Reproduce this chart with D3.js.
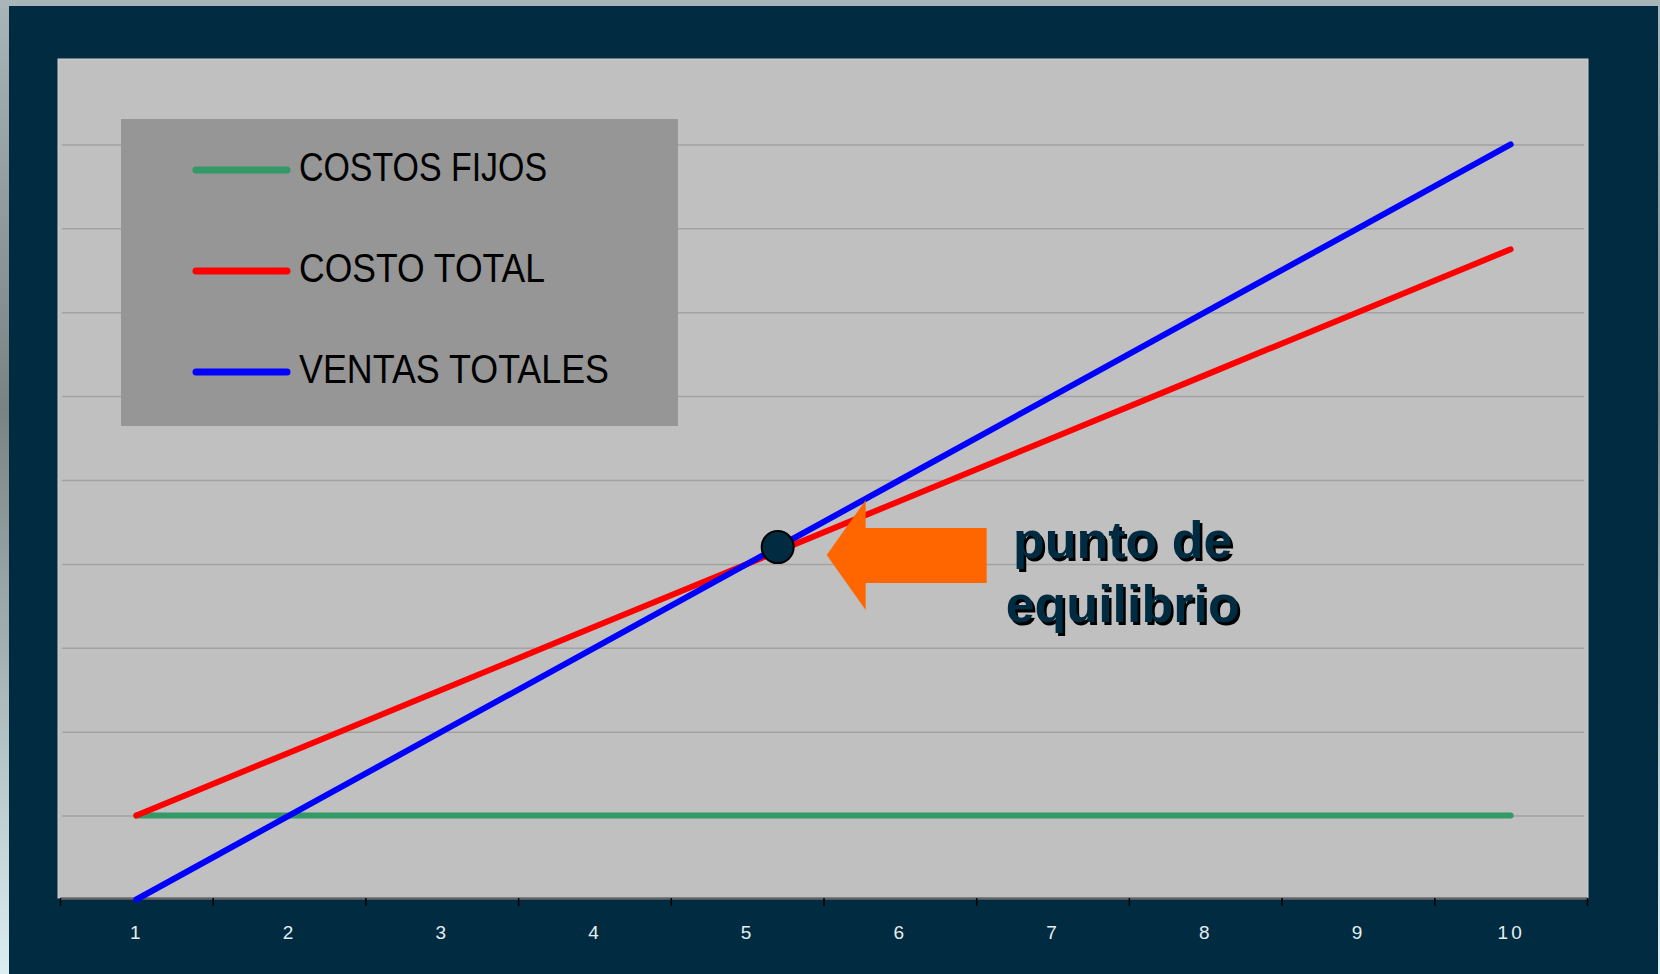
<!DOCTYPE html>
<html>
<head>
<meta charset="utf-8">
<script src="https://cdn.jsdelivr.net/npm/d3@7"></script>
<style>
  html, body { margin: 0; padding: 0; }
  body {
    width: 1660px; height: 974px; overflow: hidden;
    background: linear-gradient(to bottom, #a9b5b8 0%, #7a8384 42%, #dbeef0 100%);
  }
  svg { display: block; }
</style>
</head>
<body>
<svg id="chart" width="1660" height="974"></svg>
<script>
// categories on the x axis (units)
var categories = [1, 2, 3, 4, 5, 6, 7, 8, 9, 10];
var tickLabels = ['1', '2', '3', '4', '5', '6', '7', '8', '9', '10'];
// series values
var costosFijos = [1, 1, 1, 1, 1, 1, 1, 1, 1, 1];
var costoTotal = [1, 1.75, 2.5, 3.25, 4, 4.75, 5.5, 6.25, 7, 7.75];
var ventasTotales = [0, 1, 2, 3, 4, 5, 6, 7, 8, 9];
var seriesNames = ['COSTOS FIJOS', 'COSTO TOTAL', 'VENTAS TOTALES'];
var seriesColors = ['#339966', '#ff0000', '#0000ff'];
var gridValues = [1, 2, 3, 4, 5, 6, 7, 8, 9];
// break-even annotation
var equilibrio = { x: 5.2, y: 4.2 };
var annotLines = ['punto de', 'equilibrio'];

var series = [costosFijos, costoTotal, ventasTotales];

var svg = d3.select('#chart');
var plot = { left: 58, top: 59, right: 1588, bottom: 898 };

// navy panel
svg.append('rect').attr('x', 9).attr('y', 6).attr('width', 1649).attr('height', 968)
    .attr('fill', '#002b40');

// plot area
svg.append('rect')
    .attr('x', plot.left).attr('y', plot.top)
    .attr('width', plot.right - plot.left).attr('height', plot.bottom - plot.top)
    .attr('fill', '#c0c0c0')
    .attr('stroke', '#d0d0d0').attr('stroke-width', 1);

var x = d3.scaleLinear().domain([0.5, 10.5]).range([60, 1587]);
var y = d3.scaleLinear().domain([0, 10]).range([899.5, 60.5]);

// gridlines
svg.append('g')
    .attr('transform', 'translate(62,0)')
    .call(d3.axisLeft(y).tickValues(gridValues).tickSize(-(1584 - 62)).tickFormat(''))
    .call(g => g.select('.domain').remove())
    .call(g => g.selectAll('.tick line').attr('stroke', '#a2a2a2').attr('stroke-width', 1.5));

// x axis line + tick marks at category boundaries
var bounds = d3.range(0.5, 11, 1);
svg.append('g')
    .attr('transform', 'translate(0,' + plot.bottom + ')')
    .call(d3.axisBottom(x).tickValues(bounds).tickSize(8).tickSizeOuter(0).tickFormat(''))
    .call(g => g.select('.domain').attr('stroke', '#666').attr('stroke-width', 2.5))
    .call(g => g.selectAll('.tick line').attr('stroke', '#000').attr('stroke-width', 1.5));

// category labels
svg.append('g')
    .attr('transform', 'translate(0,' + plot.bottom + ')')
    .call(d3.axisBottom(x).tickValues(categories).tickSize(0).tickPadding(28)
        .tickFormat((d, i) => tickLabels[i]))
    .call(g => g.select('.domain').remove())
    .call(g => g.selectAll('text')
        .attr('fill', '#e6eef0')
        .attr('font-family', 'Liberation Sans, Arial, sans-serif')
        .attr('font-size', 19)
        .attr('letter-spacing', '3px'));

// lines
var line = d3.line()
    .x((d, i) => x(categories[i]))
    .y(d => y(d));

series.forEach(function(s, k) {
    svg.append('path')
        .datum(s)
        .attr('d', line)
        .attr('fill', 'none')
        .attr('stroke', seriesColors[k])
        .attr('stroke-width', 6)
        .attr('stroke-linecap', 'round')
        .attr('stroke-linejoin', 'round');
});

// legend
var legend = svg.append('g').attr('transform', 'translate(121,119)');
legend.append('rect').attr('width', 557).attr('height', 307).attr('fill', '#969696');
var textLengths = [248, 246, 310];
seriesNames.forEach(function(name, k) {
    var cy = 51 + k * 101;
    legend.append('line')
        .attr('x1', 75).attr('x2', 166).attr('y1', cy).attr('y2', cy)
        .attr('stroke', seriesColors[k]).attr('stroke-width', 7)
        .attr('stroke-linecap', 'round');
    legend.append('text')
        .attr('x', 178).attr('y', cy + 11)
        .attr('font-family', 'Liberation Sans, Arial, sans-serif')
        .attr('font-size', 41)
        .attr('textLength', textLengths[k])
        .attr('lengthAdjust', 'spacingAndGlyphs')
        .attr('fill', '#000')
        .text(name);
});

// break-even marker
var xc = d3.scaleLinear().domain([1, 10]).range([x(1), x(10)]);
var px = xc(equilibrio.x), py = y(equilibrio.y);

// arrow pointing left at the marker
var ax = px + 49, ay = py + 8;
var arrow = [
    [ax, ay], [ax + 39, ay - 55], [ax + 39, ay - 27], [ax + 160, ay - 27],
    [ax + 160, ay + 28], [ax + 39, ay + 28], [ax + 39, ay + 55]
];
svg.append('polygon')
    .attr('points', arrow.map(p => p.join(',')).join(' '))
    .attr('fill', '#ff6600');

svg.append('circle')
    .attr('cx', px).attr('cy', py).attr('r', 16)
    .attr('fill', '#002b40').attr('stroke', '#000').attr('stroke-width', 2);

// annotation text with shadow
var tx = px + 345;
annotLines.forEach(function(t, i) {
    var by = py + 11 + i * 64;
    svg.append('text')
        .attr('x', tx + 2.5).attr('y', by + 2.5)
        .attr('text-anchor', 'middle')
        .attr('font-family', 'Liberation Sans, Arial, sans-serif')
        .attr('font-weight', 'bold').attr('font-size', 52)
        .attr('fill', '#000')
        .text(t);
    svg.append('text')
        .attr('x', tx).attr('y', by)
        .attr('text-anchor', 'middle')
        .attr('font-family', 'Liberation Sans, Arial, sans-serif')
        .attr('font-weight', 'bold').attr('font-size', 52)
        .attr('fill', '#002b40')
        .text(t);
});
</script>
</body>
</html>
